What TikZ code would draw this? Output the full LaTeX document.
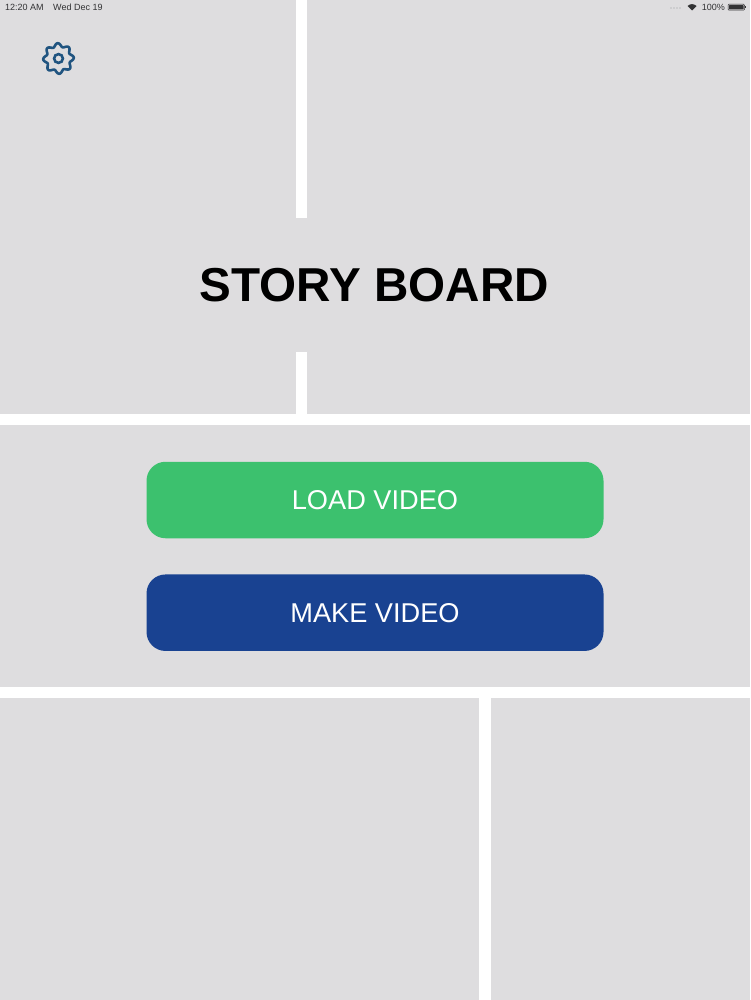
\documentclass[tikz,border=0pt]{standalone}
\usepackage{fontspec}
\setmainfont{Liberation Sans}
\definecolor{panel}{RGB}{222,221,223}
\definecolor{greenbtn}{RGB}{60,193,110}
\definecolor{bluebtn}{RGB}{25,66,145}
\definecolor{gearcol}{RGB}{32,84,128}
\definecolor{statuscol}{RGB}{50,50,52}
\tikzset{
  x=1pt,y=-1pt,
  btn/.style={rounded corners=19pt,minimum width=457pt,minimum height=76.5pt,inner sep=0pt,text=white,font=\fontsize{27.2}{30}\selectfont},
  status/.style={inner sep=0pt,text=statuscol,font=\fontsize{9}{10}\selectfont},
  gap/.style={fill=white,draw=none}
}
\begin{document}
\begin{tikzpicture}
\useasboundingbox (0,0) rectangle (750,1000);
\fill[panel] (0,0) rectangle (750,1000);
% white gutters
\fill[gap] (296,0) rectangle (307,218);
\fill[gap] (296,352) rectangle (307,414);
\fill[gap] (0,414) rectangle (750,425);
\fill[gap] (0,687) rectangle (750,698);
\fill[gap] (479,698) rectangle (490.5,1000);
% title
\node[inner sep=0pt,text=black,font=\fontsize{47.6}{50}\bfseries\selectfont] (title) at (374.5,285.5) {STORY BOARD};
% buttons
\node[btn,fill=greenbtn] (load) at (375,500) {LOAD VIDEO};
\node[btn,fill=bluebtn] (make) at (375,612.7) {MAKE VIDEO};
% status bar
\node[status,anchor=west] (time) at (5,7) {12:20 AM};
\node[status,anchor=west] (date) at (53,7) {Wed Dec 19};
\node[status,anchor=east] (pct) at (725,7) {100\%};
% signal dots
\foreach \px in {671,674,677,680}
  \fill[statuscol!50] (\px,8) circle (0.7pt);
% wifi
\fill[statuscol] (692,10.5) -- (687.5,6) arc[start angle=135,end angle=45,radius=6.4pt] -- cycle;
% battery
\draw[statuscol,line width=0.5pt,rounded corners=1pt] (728,4.2) rectangle (744.5,10.2);
\fill[statuscol,rounded corners=0.8pt] (728.8,5) rectangle (743.7,9.4);
\fill[statuscol] (745,6) rectangle (746,8.5);
% gear
\draw[gearcol,line width=2.6pt,line join=round] plot[domain=0:360,samples=145,smooth cycle] ({58.5+(13.6+1.7*cos(8*\x+22.5))*cos(\x)},{58.5+(13.6+1.7*cos(8*\x+22.5))*sin(\x)});
\draw[gearcol,line width=2.6pt] (58.5,58.5) circle (4.4pt);
\end{tikzpicture}
\end{document}
